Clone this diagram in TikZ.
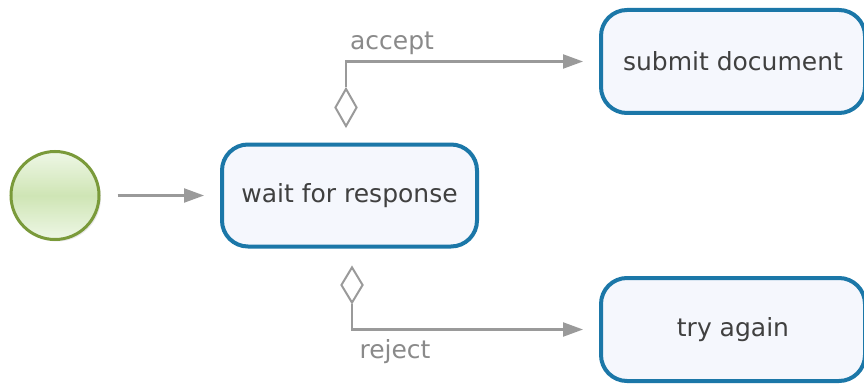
\documentclass[tikz,border=0pt]{standalone}
\usepackage{fontspec}
\setmainfont{DejaVu Sans}
\usetikzlibrary{shapes.geometric,arrows.meta,calc,shadows}
\definecolor{taskblue}{HTML}{1B77A8}
\definecolor{taskfill}{HTML}{F5F7FD}
\definecolor{startline}{HTML}{7A9A3A}
\definecolor{startmid}{HTML}{CFE5B5}
\definecolor{startlight}{HTML}{EEF7E6}
\definecolor{flowgray}{HTML}{9A9A9A}
\definecolor{labelgray}{HTML}{8A8A8A}
\definecolor{textgray}{HTML}{404040}
\tikzset{
  task/.style={draw=taskblue, line width=4pt, fill=taskfill, rounded corners=26pt,
    text=textgray, font=\fontsize{25}{28}\selectfont, inner sep=0pt},
  startev/.style={circle, draw=startline, line width=3pt, minimum size=88pt, inner sep=0pt,
    top color=startlight, bottom color=startlight, middle color=startmid,
    drop shadow={shadow xshift=2pt, shadow yshift=-2pt, opacity=0.18}},
  flow/.style={draw=flowgray, line width=2.2pt, -{Triangle[length=20pt,width=14pt]}},
  gate/.style={diamond, draw=flowgray, line width=2pt, fill=white, inner sep=0pt,
    minimum width=22pt, minimum height=38pt},
  flowlabel/.style={text=labelgray, font=\fontsize{25}{28}\selectfont}
}
\begin{document}
\begin{tikzpicture}[x=1pt, y=-1pt]
  \useasboundingbox[fill=white] (0,0) rectangle (864,385);

  % start event and tasks
  \node[startev] (start) at (55,195.5) {};
  \node[task, minimum width=255pt, minimum height=102pt] (wait) at (349.5,195.5) {wait for response};
  \node[task, minimum width=264pt, minimum height=103pt] (submit) at (733,61.5) {submit document};
  \node[task, minimum width=264pt, minimum height=103pt] (retry) at (733,329.5) {try again};

  % conditional flow markers
  \node[gate] (accgate) at (346,107.5) {};
  \node[gate, minimum height=36pt] (rejgate) at (352,285) {};

  % sequence flows
  \draw[flow, shorten <=17pt, shorten >=16pt] (start) -- (wait);
  \coordinate (accend) at ($(submit.west)+(-16,0)$);
  \coordinate (rejend) at ($(retry.west)+(-16,0)$);
  \draw[flow] (accgate.north) |- (accend);
  \draw[flow] (rejgate.south) |- (rejend);

  % flow labels
  \node[flowlabel] (acclabel) at (392,43) {accept};
  \node[flowlabel] (rejlabel) at (395,352) {reject};
\end{tikzpicture}
\end{document}
